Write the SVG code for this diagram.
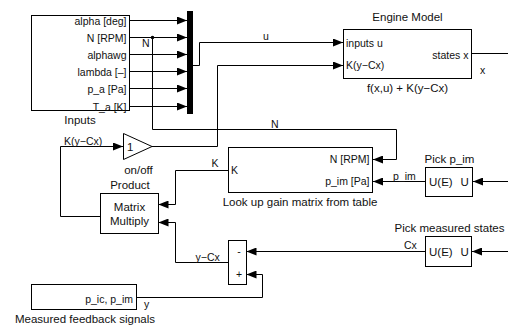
<svg xmlns="http://www.w3.org/2000/svg" width="508" height="325" viewBox="0 0 508 325">
<defs>
<marker id="arr" markerUnits="userSpaceOnUse" markerWidth="10" markerHeight="8" refX="10" refY="4" orient="auto">
<path d="M0,0 L10,4 L0,8 z" fill="#000"/>
</marker>
<style>
.blk{fill:#fff;stroke:#000;stroke-width:1}
.ln{fill:none;stroke:#000;stroke-width:1;marker-end:url(#arr)}
.pl{fill:none;stroke:#000;stroke-width:1}
text{font-family:"Liberation Sans",Arial,sans-serif;fill:#111}
.p{font-size:10.5px}
.t{font-size:11.5px}
.r{text-anchor:end}
.c{text-anchor:middle}
</style>
</defs>
<rect width="508" height="325" fill="#fff"/>
<g id="inputs">
<rect class="blk" x="31.5" y="15.5" width="98" height="95"/>
<text class="p r" x="126.5" y="24.5">alpha [deg]</text>
<text class="p r" x="126.5" y="41.5">N [RPM]</text>
<text class="p r" x="126.5" y="58.5">alphawg</text>
<text class="p r" x="126.5" y="75.5">lambda [–]</text>
<text class="p r" x="126.5" y="92.5">p_a [Pa]</text>
<text class="p r" x="126.5" y="110.5">T_a [K]</text>
<text class="t c" x="80" y="124">Inputs</text>
</g>
<g id="mux">
<rect x="187" y="11" width="6" height="103" fill="#000"/>
</g>
<g id="engine">
<rect class="blk" x="343.5" y="29.5" width="128" height="49"/>
<text class="t c" x="407.5" y="21">Engine Model</text>
<text class="p" x="346" y="46.5">inputs u</text>
<text class="p" x="346" y="69">K(y−Cx)</text>
<text class="p r" x="468.5" y="59">states x</text>
<text class="t c" x="407.5" y="91.5">f(x,u) + K(y−Cx)</text>
</g>
<g id="gain">
<polygon class="blk" points="123.5,133.5 152,146.5 123.5,159.5"/>
<text class="t" x="127" y="150.5">1</text>
<text class="t c" x="138.5" y="173.5">on/off</text>
</g>
<g id="product">
<rect class="blk" x="100.5" y="193.5" width="58" height="40"/>
<text class="t c" x="130" y="189">Product</text>
<text class="t c" x="129.5" y="210.5">Matrix</text>
<text class="t c" x="129.5" y="224.5">Multiply</text>
</g>
<g id="lookup">
<rect class="blk" x="228.5" y="147.5" width="144" height="45"/>
<text class="p" x="231" y="174">K</text>
<text class="p r" x="369.5" y="163">N [RPM]</text>
<text class="p r" x="369.5" y="185">p_im [Pa]</text>
<text class="t c" x="300" y="206">Look up gain matrix from table</text>
</g>
<g id="pick_pim">
<rect class="blk" x="425.5" y="167.5" width="47" height="29"/>
<text class="t c" x="449.5" y="162.5">Pick p_im</text>
<text class="t" x="429" y="185.5">U(E)</text>
<text class="t" x="460.5" y="185.5">U</text>
</g>
<g id="pick_states">
<rect class="blk" x="425.5" y="236.5" width="46" height="30"/>
<text class="t c" x="449.5" y="232">Pick measured states</text>
<text class="t" x="429" y="255.5">U(E)</text>
<text class="t" x="460.5" y="255.5">U</text>
</g>
<g id="sum">
<rect class="blk" x="228.5" y="240.5" width="18" height="44"/>
<text class="p c" x="239" y="255">-</text>
<text class="p c" x="239" y="278">+</text>
</g>
<g id="measured">
<rect class="blk" x="31.5" y="284.5" width="105" height="25"/>
<text class="p r" x="133" y="302.5">p_ic, p_im</text>
<text class="t c" x="85" y="323">Measured feedback signals</text>
</g>
<g id="connectors">
<path class="ln" d="M129.5,20.5 H187"/>
<path class="ln" d="M129.5,37.5 H187"/>
<path class="ln" d="M129.5,54.5 H187"/>
<path class="ln" d="M129.5,71.5 H187"/>
<path class="ln" d="M129.5,88.5 H187"/>
<path class="ln" d="M129.5,106.5 H187"/>
<circle cx="152.5" cy="37.5" r="1.8" fill="#000"/>
<path class="ln" d="M152.5,37.5 V129.5 H396.5 V159.5 H373"/>
<path class="ln" d="M193,65.5 H199.5 V42.5 H343"/>
<path class="ln" d="M152,146.5 H217.5 V65.5 H343"/>
<path class="ln" d="M100.5,216.5 H60.5 V146.5 H123"/>
<path class="ln" d="M228.5,170.5 H175.5 V204.5 H158.5"/>
<path class="ln" d="M228.5,262.5 H175.5 V222.5 H158.5"/>
<path class="ln" d="M425.5,181.5 H373"/>
<path class="ln" d="M508,181.5 H473"/>
<path class="ln" d="M508,251.5 H472"/>
<path class="ln" d="M425.5,251.5 H246.5"/>
<path class="ln" d="M136.5,297.5 H262.5 V274.5 H246.5"/>
<path class="pl" d="M471.5,53.5 H508"/>
<text class="p" x="142" y="47">N</text>
<text class="p" x="263" y="40">u</text>
<text class="p" x="271" y="127.5">N</text>
<text class="p" x="64" y="145">K(y−Cx)</text>
<text class="p" x="211.5" y="167">K</text>
<text class="p" x="393" y="180">p_im</text>
<text class="p" x="404" y="249">Cx</text>
<text class="p" x="195.5" y="261">y−Cx</text>
<text class="p" x="480" y="74">x</text>
<text class="p" x="144" y="308">y</text>
</g>
</svg>
